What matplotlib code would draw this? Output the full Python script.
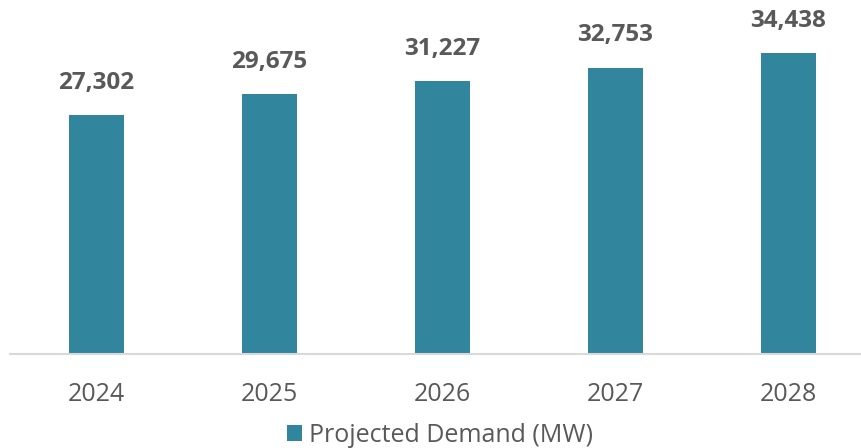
import matplotlib.pyplot as plt

years = ['2024', '2025', '2026', '2027', '2028']
demand = [27302, 29675, 31227, 32753, 34438]

plt.rcParams['font.family'] = ['Open Sans', 'DejaVu Sans']

fig = plt.figure(figsize=(8.62, 4.48), dpi=100)
ax = fig.add_axes([10 / 862, (448 - 354) / 448, 852 / 862, 349 / 448])

x = range(len(years))
bars = ax.bar(x, demand, width=0.32, color='#31859C', label='Projected Demand (MW)')

for b, v in zip(bars, demand):
    ax.text(b.get_x() + b.get_width() / 2, v + 2300, f'{v:,}', ha='center', va='bottom',
            fontsize=17.5, fontweight='bold', color='#595959')

ax.set_ylim(0, 39900)
ax.set_xlim(-0.5, 852 / 173 - 0.5)
ax.set_xticks(list(x))
ax.set_xticklabels(years, fontsize=18, color='#595959')
ax.tick_params(axis='x', length=0, pad=20)
ax.set_yticks([])
for s in ['top', 'right', 'left']:
    ax.spines[s].set_visible(False)
ax.spines['bottom'].set_color('#D9D9D9')
ax.spines['bottom'].set_linewidth(1.5)

fig.legend(loc='center', bbox_to_anchor=(440 / 862, 1 - 435 / 448), frameon=False,
           fontsize=18, labelcolor='#595959', handlelength=0.6, handleheight=0.6,
           handletextpad=0.3)

plt.savefig('out.png', dpi=100)
plt.close()
